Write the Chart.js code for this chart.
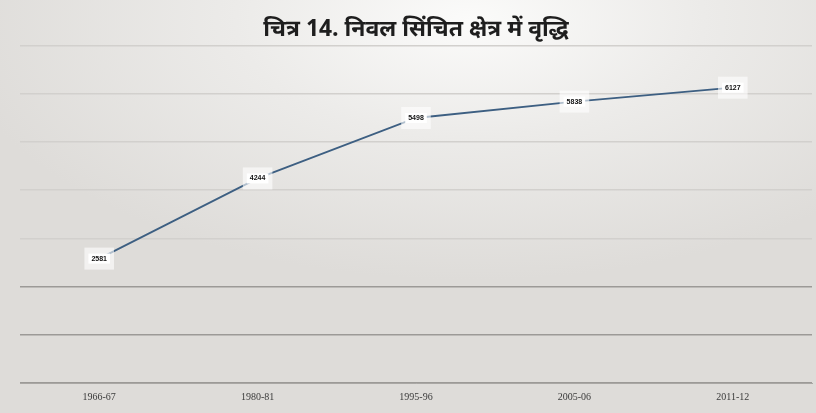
<!DOCTYPE html>
<html><head><meta charset="utf-8">
<script src="https://cdn.jsdelivr.net/npm/chart.js@4"></script>
<style>
html,body{margin:0;padding:0;}
body{width:816px;height:413px;overflow:hidden;
background:radial-gradient(ellipse 520px 260px at 470px 20px,#fbfbfa 0%,#ecebe9 45%,rgba(222,220,217,1) 100%),#dddbd8;}
#wrap{position:absolute;left:0;top:0;width:816px;height:413px;}
</style></head><body>
<div id="wrap"><canvas id="c" width="816" height="413"></canvas></div>
<script>
const titleText = 'चित्र 14. निवल सिंचित क्षेत्र में वृद्धि';
const categories = ['1966-67','1980-81','1995-96','2005-06','2011-12'];
const netIrrigated = [2581, 4244, 5498, 5838, 6127];
const yTicks = [0,1000,2000,3000,4000,5000,6000,7000];

const labelPlugin = {
  id:'pointLabels',
  afterDatasetsDraw(chart){
    const ctx = chart.ctx;
    const meta = chart.getDatasetMeta(0);
    ctx.save();
    ctx.font = 'bold 7px "Liberation Sans", Arial, sans-serif';
    ctx.textAlign='center'; ctx.textBaseline='middle';
    meta.data.forEach((pt,i)=>{
      const t = String(chart.data.datasets[0].data[i]);
      const w = ctx.measureText(t).width + 6;
      ctx.fillStyle='rgba(255,255,255,0.6)';
      ctx.fillRect(pt.x-w/2-4, pt.y-11, w+8, 22);
      ctx.fillStyle='#ffffff';
      ctx.fillRect(pt.x-w/2, pt.y-5, w, 10);
      ctx.fillStyle='#111';
      ctx.fillText(t, pt.x, pt.y);
    });
    ctx.restore();
  }
};

new Chart(document.getElementById('c'),{
  type:'line',
  data:{labels:categories,datasets:[{
    data:netIrrigated,
    borderColor:'#3d5f82',
    borderWidth:1.8,
    pointRadius:0,
    tension:0,
    fill:false
  }]},
  options:{
    responsive:false,animation:false,
    layout:{padding:{left:20,right:4,top:0,bottom:10}},
    plugins:{
      legend:{display:false},tooltip:{enabled:false},
      title:{display:true,text:titleText,color:'#1e1e1e',
        font:{size:23,weight:'bold',family:'"Noto Sans Devanagari","Lohit Devanagari","Noto Sans",sans-serif'},
        padding:{top:18,bottom:0}}
    },
    scales:{
      x:{offset:true,grid:{display:false},border:{color:'#a9a7a4',width:1},
        ticks:{color:'#3a3a3a',font:{size:10,family:'"Liberation Serif","Times New Roman",serif'},padding:0,maxRotation:0}},
      y:{min:0,max:7000,afterBuildTicks(s){s.ticks=yTicks.map(v=>({value:v}));},
        ticks:{display:false},border:{display:false},
        grid:{color:(c)=> c.tick && c.tick.value<=2000 ? '#9c9a97' : '#d2d0cd',lineWidth:1.5,drawTicks:false}}
    }
  },
  plugins:[labelPlugin]
});
</script></body></html>
